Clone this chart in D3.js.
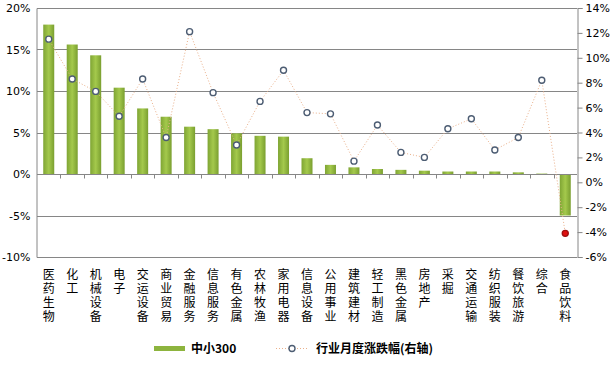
<!DOCTYPE html>
<html><head><meta charset="utf-8">
<script src="https://cdn.jsdelivr.net/npm/d3@7/dist/d3.min.js"></script>
<style>body{margin:0;background:#fff}svg{display:block}</style>
</head><body>
<svg id="c" width="611" height="368"></svg>
<script>
const categories = ["医药生物","化工","机械设备","电子","交运设备","商业贸易","金融服务","信息服务","有色金属","农林牧渔","家用电器","信息设备","公用事业","建筑建材","轻工制造","黑色金属","房地产","采掘","交通运输","纺织服装","餐饮旅游","综合","食品饮料"];
const barValues = [18.0,15.6,14.3,10.4,7.9,6.9,5.7,5.4,4.9,4.6,4.5,1.9,1.1,0.8,0.6,0.5,0.4,0.3,0.3,0.3,0.2,0.05,-5.0];
const lineValues = [11.5,8.3,7.3,5.3,8.3,3.6,12.1,7.2,3.0,6.5,9.0,5.6,5.5,1.7,4.6,2.4,2.0,4.3,5.1,2.6,3.6,8.2,-4.1];
const leftTicks = [20,15,10,5,0,-5,-10];
const rightTicks = [14,12,10,8,6,4,2,0,-2,-4,-6];
const seriesNames = ["中小300","行业月度涨跌幅(右轴)"];

const svg = d3.select("#c");
const L = 37, R = 577, T = 8, B = 257;
const x = d3.scaleBand().domain(categories).range([L, R]);
const yL = d3.scaleLinear().domain([-10, 20]).range([B, T]);
const yR = d3.scaleLinear().domain([-6, 14]).range([B, T]);
const font = "'DejaVu Sans', sans-serif";
const cjk = "'Noto Sans CJK SC', sans-serif";

const defs = svg.append("defs");
const g = defs.append("linearGradient").attr("id","bg").attr("x1","0").attr("x2","1").attr("y1","0").attr("y2","0");
g.append("stop").attr("offset","0").attr("stop-color","#7fa534");
g.append("stop").attr("offset","0.5").attr("stop-color","#a4c94c");
g.append("stop").attr("offset","1").attr("stop-color","#7a9f30");

// gridlines
svg.append("g").selectAll("line").data(leftTicks).join("line")
  .attr("x1", L).attr("x2", R).attr("y1", d => Math.round(yL(d)) + 0.5).attr("y2", d => Math.round(yL(d)) + 0.5)
  .attr("stroke", "#868686").attr("stroke-width", 1);

// left axis
const la = svg.append("g").attr("transform", `translate(${L - 0.5},0)`)
  .call(d3.axisLeft(yL).tickValues(leftTicks).tickSize(0).tickFormat(d => d + "%"));
la.select(".domain").attr("stroke", "#868686");
la.selectAll("text").attr("font-family", font).attr("font-size", 11).attr("fill", "#000").attr("x", -6);

// right axis
const ra = svg.append("g").attr("transform", `translate(${R + 0.5},0)`)
  .call(d3.axisRight(yR).tickValues(rightTicks).tickSize(5).tickFormat(d => d + "%"));
ra.select(".domain").attr("stroke", "#868686");
ra.selectAll(".tick line").attr("stroke", "#868686");
ra.selectAll("text").attr("font-family", font).attr("font-size", 11).attr("fill", "#000").attr("x", 8);

// bars
const bw = 11;
svg.append("g").selectAll("rect").data(barValues).join("rect")
  .attr("x", (d, i) => x(categories[i]) + x.bandwidth() / 2 - bw / 2)
  .attr("y", d => Math.min(yL(d), yL(0)))
  .attr("width", bw)
  .attr("height", d => Math.abs(yL(d) - yL(0)))
  .attr("fill", "url(#bg)");

// category axis at 0
const y0 = Math.round(yL(0)) + 0.5;
svg.append("line").attr("x1", L).attr("x2", R).attr("y1", y0).attr("y2", y0).attr("stroke", "#868686");
svg.append("g").selectAll("line").data(categories.slice(1)).join("line")
  .attr("x1", d => Math.round(x(d)) + 0.5).attr("x2", d => Math.round(x(d)) + 0.5)
  .attr("y1", y0).attr("y2", y0 + 4).attr("stroke", "#868686");

// line
const line = d3.line().x((d, i) => x(categories[i]) + x.bandwidth() / 2).y(d => yR(d));
svg.append("path").datum(lineValues).attr("d", line).attr("fill", "none")
  .attr("stroke", "#eab08a").attr("stroke-width", 1).attr("stroke-dasharray", "1,2");
svg.append("g").selectAll("circle").data(lineValues).join("circle")
  .attr("cx", (d, i) => x(categories[i]) + x.bandwidth() / 2)
  .attr("cy", d => yR(d)).attr("r", 3)
  .attr("fill", (d, i) => i === lineValues.length - 1 ? "#e01010" : "#fff")
  .attr("stroke", (d, i) => i === lineValues.length - 1 ? "#a01010" : "#4d5d73").attr("stroke-width", 1.4);

// category labels, vertical text
svg.append("g").selectAll("text").data(categories).join("text")
  .attr("font-family", cjk).attr("font-size", 12).attr("fill", "#000")
  .style("writing-mode", "vertical-rl").style("text-orientation", "upright")
  .attr("letter-spacing", 2)
  .attr("x", d => x(d) + x.bandwidth() / 2).attr("y", 268)
  .text(d => d);

// legend
svg.append("rect").attr("x", 154).attr("y", 346).attr("width", 31).attr("height", 5).attr("fill", "#8db43e");
svg.append("text").attr("x", 191).attr("y", 353).attr("font-family", cjk)
  .attr("font-size", 12).attr("font-weight", "bold").text(seriesNames[0]);
svg.append("line").attr("x1", 276).attr("x2", 308).attr("y1", 348.5).attr("y2", 348.5)
  .attr("stroke", "#eab08a").attr("stroke-dasharray", "1,2");
svg.append("circle").attr("cx", 292).attr("cy", 348.5).attr("r", 3).attr("fill", "#fff").attr("stroke", "#4d5d73").attr("stroke-width", 1.4);
svg.append("text").attr("x", 316).attr("y", 353).attr("font-family", cjk)
  .attr("font-size", 12).attr("font-weight", "bold").text(seriesNames[1]);
</script>
</body></html>
